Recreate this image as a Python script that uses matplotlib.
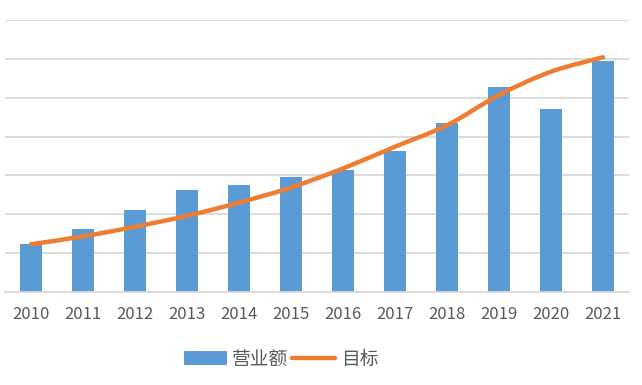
import numpy as np
import matplotlib
matplotlib.use('Agg')
import matplotlib.pyplot as plt
from matplotlib.path import Path
from matplotlib.patches import PathPatch
from matplotlib.lines import Line2D
from matplotlib.patches import Patch

plt.rcParams['font.family'] = ['Noto Sans CJK SC', 'DejaVu Sans']

# ── Data ──────────────────────────────────────────────────────────────────────
years   = ['2010', '2011', '2012', '2013', '2014', '2015',
           '2016', '2017', '2018', '2019', '2020', '2021']
revenue = [1.24, 1.62, 2.11, 2.62, 2.75, 2.95, 3.15, 3.64, 4.34, 5.28, 4.72, 5.95]
target  = [1.23, 1.43, 1.68, 1.96, 2.30, 2.69, 3.18, 3.74, 4.29, 5.07, 5.67, 6.04]

C_BAR  = '#5B9BD5'
C_LINE = '#ED7D31'
C_GRID = '#D9D9D9'
C_TEXT = '#595959'

fig = plt.figure(figsize=(6.42, 3.85), dpi=100)
ax  = fig.add_axes([5/642, 1 - 292/385, 624/642, 272/385])

x = np.arange(len(years))
ax.bar(x, revenue, width=0.405, color=C_BAR, zorder=2)

# smoothed line as cubic bezier through the points (Excel-style smoothing)
pts = np.column_stack([x, target]).astype(float)
verts, codes = [pts[0]], [Path.MOVETO]
for i in range(len(pts) - 1):
    p0 = pts[i - 1] if i > 0 else pts[i]
    p1, p2 = pts[i], pts[i + 1]
    p3 = pts[i + 2] if i + 2 < len(pts) else pts[i + 1]
    c1 = p1 + (p2 - p0) / 6.0
    c2 = p2 - (p3 - p1) / 6.0
    verts += [c1, c2, p2]
    codes += [Path.CURVE4] * 3
ax.add_patch(PathPatch(Path(verts, codes), fill=False, edgecolor=C_LINE,
                       lw=3.2, capstyle='round', zorder=3))

ax.set_xlim(-0.5, len(years) - 0.5)
ax.set_ylim(0, 7)
ax.set_yticks(np.arange(0, 8, 1))
ax.yaxis.grid(True, color=C_GRID, lw=1.3, zorder=0)
ax.set_axisbelow(True)
ax.tick_params(axis='y', left=False, labelleft=False)
ax.tick_params(axis='x', length=0, pad=10, labelsize=12, labelcolor=C_TEXT)
ax.set_xticks(x)
ax.set_xticklabels(years)
for s in ['top', 'right', 'left']:
    ax.spines[s].set_visible(False)
ax.spines['bottom'].set_color(C_GRID)
ax.spines['bottom'].set_linewidth(1.3)

handles = [Patch(facecolor=C_BAR, edgecolor='none'),
           Line2D([0], [0], color=C_LINE, lw=3.2, solid_capstyle='round')]
fig.legend(handles, ['营业额', '目标'], loc='center', bbox_to_anchor=(281/642, 1 - 359/385),
           ncol=2, frameon=False, fontsize=13.5, labelcolor=C_TEXT,
           handlelength=2.3, handleheight=0.7, handletextpad=0.3, columnspacing=0.2)

plt.savefig('out.png', dpi=100)
